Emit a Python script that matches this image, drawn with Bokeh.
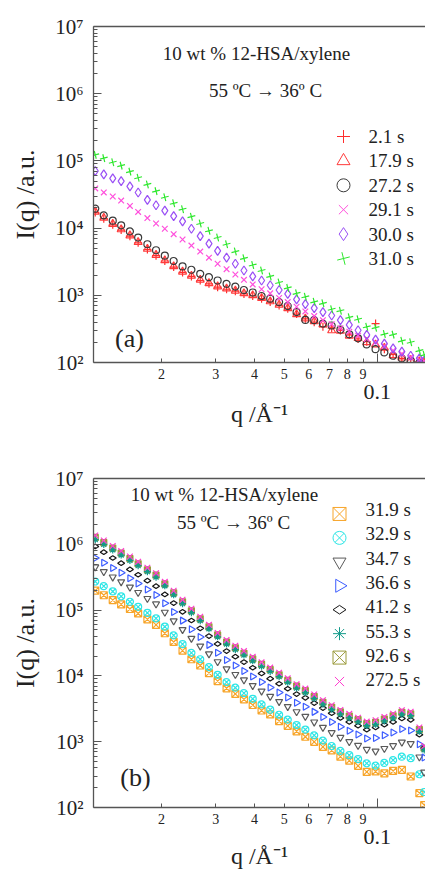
import math
from bokeh.plotting import figure
from bokeh.models import Range1d, LogAxis, FixedTicker, Label, LinearScale, Grid
from bokeh.layouts import column
from bokeh.embed import file_html
from bokeh.resources import INLINE

FONT = "Liberation Serif"
TXT = "#222222"
AX = "#555555"

# ---------------- data ----------------
q = [0.0122, 0.0130, 0.0139, 0.0148, 0.0158, 0.0168, 0.0180, 0.0192, 0.0205, 0.0219,
     0.0234, 0.0250, 0.0267, 0.0285, 0.0304, 0.0325, 0.0347, 0.0370, 0.0395, 0.0422,
     0.0450, 0.0481, 0.0513, 0.0548, 0.0585, 0.0625, 0.0667, 0.0712, 0.0760, 0.0812,
     0.0867, 0.0925, 0.0988, 0.1055, 0.1126, 0.1202, 0.1284, 0.1370, 0.1420]

# panel (a)
a_t2_1 = [17000, 13800, 11200, 9330, 7590, 6030, 4790, 3890, 3240, 2630,
          2190, 1910, 1660, 1480, 1320, 1230, 1150, 1050, 977, 891,
          794, 708, 631, 525, 447, 398, 340, 324, 300, 257,
          224, 204, 380, 158, 132, 115, 110, 102, 98]
a_t17_9 = [17500, 14200, 11500, 9550, 7760, 6170, 4900, 3980, 3310, 2700,
           2240, 1950, 1700, 1510, 1350, 1260, 1170, 1070, 1000, 910,
           810, 720, 640, 520, 450, 410, 370, 300, 295, 250,
           230, 200, 185, 165, 128, 118, 108, 104, 100]
a_t27_2 = [19500, 15500, 12900, 11000, 8910, 7240, 5750, 4680, 3890, 3240,
           2690, 2400, 2090, 1860, 1660, 1480, 1350, 1200, 1100, 977,
           891, 794, 692, 562, 430, 427, 380, 355, 309, 263,
           229, 186, 158, 141, 126, 115, 107, 98, 95]
a_t29_1 = [38900, 33900, 29500, 25700, 21400, 17400, 14100, 11700, 9770, 8130,
           6760, 5500, 4470, 3630, 2950, 2450, 2040, 1700, 1450, 1230,
           1070, 912, 794, 676, 575, 490, 427, 372, 324, 288,
           251, 224, 200, 174, 151, 135, 120, 110, 105]
a_t30_0 = [70800, 63100, 55000, 50100, 41700, 33900, 26300, 21900, 18200, 15100,
           12600, 9770, 7590, 5890, 4570, 3630, 2950, 2340, 1910, 1660,
           1410, 1200, 1050, 871, 741, 646, 562, 501, 427, 363,
           302, 257, 219, 191, 162, 145, 126, 115, 107]
a_t31_0 = [123000, 110000, 95500, 85100, 69200, 56200, 44700, 35500, 28800, 23400,
           19100, 14800, 11700, 9120, 7240, 5750, 4470, 3550, 2820, 2340,
           1910, 1550, 1290, 1070, 950, 800, 760, 620, 590, 470,
           440, 340, 330, 265, 260, 210, 200, 150, 130]

a_labels = ["2.1 s", "17.9 s", "27.2 s", "29.1 s", "30.0 s", "31.0 s"]

# panel (b)
b_t31_9 = [198000, 168000, 142000, 122000, 104000, 88900, 72100, 59500, 44500, 32800,
           24200, 17900, 14400, 11000, 8330, 6480, 5330, 4400, 3610, 2980,
           2600, 2060, 1740, 1440, 1190, 994, 833, 740, 592, 515,
           430, 347, 353, 330, 359, 374, 296, 165, 109]
b_t32_9 = [272000, 231000, 192000, 162000, 134000, 112000, 90600, 74800, 55900, 41300,
           30400, 22400, 17900, 13600, 10400, 8050, 6620, 5470, 4490, 3700,
           3070, 2570, 2160, 1790, 1530, 1250, 1040, 860, 725, 625,
           545, 470, 433, 475, 524, 593, 562, 320, 172]
b_t34_7 = [452000, 383000, 318000, 269000, 223000, 185000, 150000, 124000, 92700, 68500,
           50500, 37200, 28400, 21600, 16400, 12800, 10500, 8690, 7130, 5880,
           4880, 4070, 3420, 2850, 2420, 1990, 1650, 1370, 1160, 1000,
           877, 762, 718, 788, 869, 983, 932, 585, 344]
b_t36_6 = [619000, 524000, 436000, 369000, 305000, 254000, 206000, 170000, 127000, 93800,
           69200, 51000, 38900, 29600, 22500, 17500, 14400, 11900, 9770, 8050,
           6680, 5580, 4690, 3900, 3410, 2840, 2380, 1990, 1690, 1470,
           1290, 1120, 1140, 1250, 1380, 1560, 1480, 914, 574]
b_t41_2 = [929000, 760000, 619000, 517000, 415000, 345000, 280000, 231000, 173000, 128000,
           94100, 69400, 52900, 40300, 30600, 23800, 19600, 16200, 13300, 10900,
           9080, 7590, 6380, 5300, 4640, 3860, 3240, 2710, 2300, 2000,
           1750, 1520, 1650, 1810, 2000, 2260, 2150, 1280, 804]
b_t55_3 = [1180000, 994000, 820000, 687000, 568000, 473000, 384000, 317000, 234000, 171000,
           125000, 91400, 69100, 52000, 39200, 30500, 25100, 20700, 17000, 14000,
           11700, 9740, 8000, 6520, 5580, 4550, 3720, 3110, 2640, 2310,
           2020, 1760, 1840, 2070, 2310, 2620, 2490, 1440, 750]
b_t92_6 = [1270000, 1062000, 876000, 735000, 607000, 506000, 410000, 339000, 250000, 183000,
           134000, 97700, 73800, 55600, 41900, 32600, 26800, 22100, 18100, 15000,
           12500, 10400, 8550, 6970, 5960, 4860, 3980, 3330, 2830, 2460,
           2160, 1880, 1970, 2210, 2470, 2800, 2660, 1530, 800]
b_t272_5 = [1362000, 1142000, 942000, 790000, 653000, 544000, 441000, 364000, 269000, 197000,
            144000, 105000, 79400, 59800, 45000, 35000, 28800, 23800, 19500, 16100,
            13400, 11200, 9190, 7490, 6410, 5230, 4280, 3580, 3040, 2650,
            2320, 2020, 2120, 2380, 2660, 3010, 2860, 1650, 860]

b_labels = ["31.9 s", "32.9 s", "34.7 s", "36.6 s", "41.2 s", "55.3 s", "92.6 s", "272.5 s"]

x_tick_vals = [0.02, 0.03, 0.04, 0.05, 0.06, 0.07, 0.08, 0.09]
x_tick_text = ["2", "3", "4", "5", "6", "7", "8", "9"]
y_tick_vals = [100, 1000, 10000, 100000, 1000000, 10000000]
y_tick_text = ["10²", "10³", "10⁴", "10⁵", "10⁶", "10⁷"]

title1 = "10 wt % 12-HSA/xylene"
title2 = "55 ºC → 36º C"

W = 425
LEFT = 93
FW = W - LEFT


def make_fig(height, top, bottom, zero_standoff, xlabel_standoff):
    fh = height - top - bottom
    p = figure(width=W, height=height, x_axis_type="log", y_axis_type="log",
               x_range=Range1d(0.01204, 0.1434), y_range=Range1d(100, 1e7),
               x_axis_location=None, y_axis_location=None,
               output_backend="svg", toolbar_location=None,
               min_border_left=LEFT, min_border_right=0,
               min_border_top=top, min_border_bottom=bottom)
    p.center = [c for c in p.center if not isinstance(c, Grid)]
    p.outline_line_color = None
    p.background_fill_color = "white"
    p.border_fill_color = "white"
    # pixel-like ranges inside the frame, used for the hand-made legend
    p.extra_x_ranges = {"px": Range1d(0, FW)}
    p.extra_y_ranges = {"px": Range1d(0, fh)}
    p.extra_x_scales = {"px": LinearScale()}
    p.extra_y_scales = {"px": LinearScale()}

    minors = [m * 10 ** e for e in range(2, 7) for m in range(2, 10)]
    yax = LogAxis(ticker=FixedTicker(ticks=y_tick_vals, minor_ticks=minors),
                  major_label_overrides=dict(zip(y_tick_vals, y_tick_text)),
                  axis_label="I(q) /a.u.")
    yax.axis_line_color = AX
    yax.axis_line_width = 1.3
    yax.major_tick_line_color = AX
    yax.minor_tick_line_color = AX
    yax.major_tick_in = 8
    yax.major_tick_out = 0
    yax.minor_tick_in = 4
    yax.minor_tick_out = 0
    yax.major_label_text_font = FONT
    yax.major_label_text_font_size = "21px"
    yax.major_label_text_color = TXT
    yax.major_label_text_baseline = "hanging"
    yax.major_label_standoff = 10
    yax.axis_label_text_font = FONT
    yax.axis_label_text_font_size = "26px"
    yax.axis_label_text_font_style = "normal"
    yax.axis_label_text_color = TXT
    yax.axis_label_standoff = 12
    p.add_layout(yax, "left")

    xax1 = LogAxis(ticker=FixedTicker(ticks=x_tick_vals, minor_ticks=[0.1]),
                   major_label_overrides=dict(zip(x_tick_vals, x_tick_text)))
    xax1.axis_line_color = AX
    xax1.axis_line_width = 1.3
    xax1.major_tick_line_color = AX
    xax1.minor_tick_line_color = AX
    xax1.major_tick_in = 4
    xax1.major_tick_out = 0
    xax1.minor_tick_in = 9
    xax1.minor_tick_out = 0
    xax1.major_label_text_font = FONT
    xax1.major_label_text_font_size = "14px"
    xax1.major_label_text_color = TXT
    xax1.major_label_standoff = 6
    p.add_layout(xax1, "below")

    xax2 = LogAxis(ticker=FixedTicker(ticks=[0.1], minor_ticks=[]),
                   major_label_overrides={0.1: "0.1"},
                   axis_label="q /Å⁻¹")
    xax2.axis_line_color = None
    xax2.major_tick_line_color = None
    xax2.minor_tick_line_color = None
    xax2.major_tick_in = 0
    xax2.major_tick_out = 0
    xax2.major_label_text_font = FONT
    xax2.major_label_text_font_size = "22px"
    xax2.major_label_text_color = TXT
    xax2.major_label_standoff = zero_standoff
    xax2.axis_label_text_font = FONT
    xax2.axis_label_text_font_size = "24px"
    xax2.axis_label_text_font_style = "normal"
    xax2.axis_label_text_color = TXT
    xax2.axis_label_standoff = xlabel_standoff
    p.add_layout(xax2, "below")

    topax = LogAxis(ticker=FixedTicker(ticks=[], minor_ticks=[]))
    topax.axis_line_color = AX
    topax.axis_line_width = 1.3
    topax.major_tick_line_color = None
    topax.minor_tick_line_color = None
    topax.major_tick_out = 0
    topax.major_tick_in = 0
    topax.major_label_text_font_size = "0px"
    p.add_layout(topax, "above")
    return p, fh


def add_label(p, x, y, text, size, align="center"):
    p.add_layout(Label(x=x, y=y, x_units="screen", y_units="screen", text=text,
                       text_align=align, text_baseline="middle",
                       text_font=FONT, text_font_size=size, text_color=TXT))


def add_legend(p, labels, marks, mx, tx, y0, dy):
    for i, (lab, (mk, col, ang, _sz)) in enumerate(zip(labels, marks)):
        y = y0 - i * dy
        p.scatter([mx], [y], marker=mk, size=13, angle=ang, line_color=col,
                  fill_color=None, line_width=1, x_range_name="px", y_range_name="px")
        add_label(p, tx, y, lab, "19px", align="left")


# ---------------- panel (a) ----------------
pa, fha = make_fig(438, 26, 76, 3, -1)
a_series = [a_t2_1, a_t17_9, a_t27_2, a_t29_1, a_t30_0, a_t31_0]
a_marks = [("cross", "#ff2d2d", 0, 8), ("triangle", "#ff3b3b", 0, 8), ("circle", "#3a3a3a", 0, 7),
           ("x", "#ff4fdc", 0, 8), ("diamond", "#9a50f5", 0, 9), ("cross", "#2fe82f", 0.25, 8)]
for ys, (mk, col, ang, sz) in zip(a_series, a_marks):
    pa.scatter(q, ys, marker=mk, size=sz, angle=ang, line_color=col, fill_color=None,
               line_width=1.2)
add_legend(pa, a_labels, a_marks, 343 - LEFT, 368 - LEFT, 362 - 136, 24.4)
add_label(pa, 163, 309, title1, "19px")
add_label(pa, 172, 272, title2, "19px")
add_label(pa, 36, 24, "(a)", "26px")

# ---------------- panel (b) ----------------
pb, fhb = make_fig(433, 40, 59, 3, -4)
b_series = [b_t31_9, b_t32_9, b_t34_7, b_t36_6, b_t41_2, b_t55_3, b_t92_6, b_t272_5]
b_marks = [("square_x", "#f7a52a", 0, 7), ("circle_x", "#2de6e6", 0, 7), ("inverted_triangle", "#5a5a5a", 0, 7),
           ("triangle", "#3b5cff", -math.pi / 2, 7), ("diamond", "#151515", math.pi / 2, 7),
           ("asterisk", "#129a8a", 0, 7), ("square_x", "#9a9a3a", math.pi / 2, 6), ("x", "#ff3ccf", 0, 8)]
draw_order = [6, 0, 1, 2, 3, 4, 5, 7]
for k in draw_order:
    mk, col, ang, sz = b_marks[k]
    pb.scatter(q, b_series[k], marker=mk, size=sz, angle=ang, line_color=col, fill_color=None,
               line_width=1.2)
add_legend(pb, b_labels, b_marks, 339 - LEFT, 365 - LEFT, 812 - 514, 24.3)
add_label(pb, 131, 313, title1, "19px")
add_label(pb, 140, 285, title2, "19px")
add_label(pb, 42, 30, "(b)", "26px")

layout = column(pa, pb)
open("out.html", "w").write(file_html(layout, INLINE))
